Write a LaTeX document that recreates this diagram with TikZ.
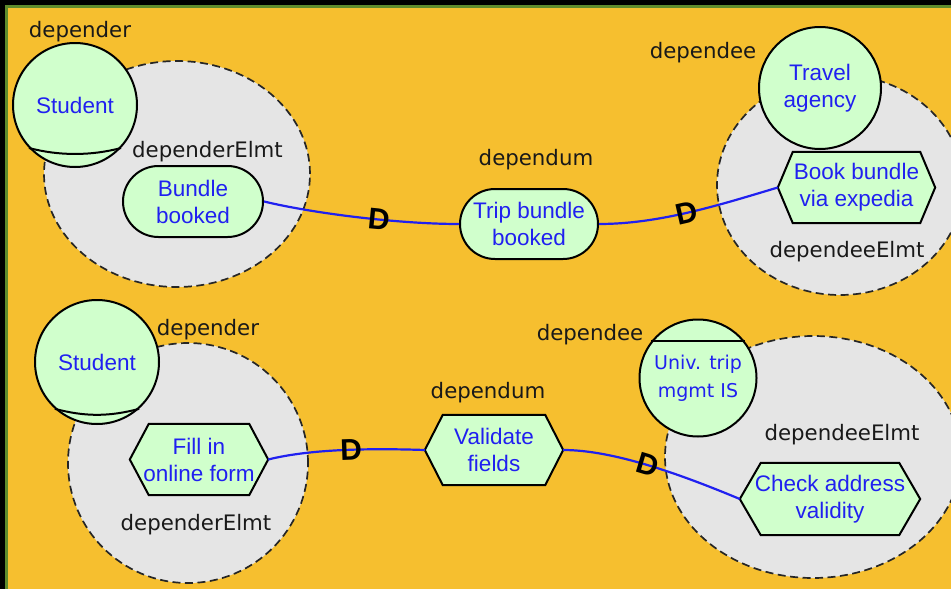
\documentclass[tikz,border=0pt]{standalone}
\usepackage{fontspec}
\setmainfont{Liberation Sans}
\newfontfamily\lblfont{DejaVu Sans}
\usetikzlibrary{shapes.geometric,shapes.misc}

\definecolor{orangebg}{RGB}{246,191,47}
\definecolor{framegreen}{RGB}{95,140,45}
\definecolor{bndgray}{RGB}{229,229,229}
\definecolor{elgreen}{RGB}{208,255,204}
\definecolor{intblue}{RGB}{32,32,240}
\definecolor{lbltext}{RGB}{25,25,25}

\pgfdeclarelayer{back}
\pgfdeclarelayer{mid}
\pgfsetlayers{back,mid,main}

\tikzset{
  boundary/.style={ellipse, draw=black!85, fill=bndgray, line width=1.7pt,
    dash pattern=on 8pt off 4.5pt, inner sep=0pt},
  outline/.style={draw=black, line width=2pt},
  actor/.style={circle, outline, fill=elgreen, inner sep=0pt, text=intblue,
    font=\fontsize{22.5}{27}\selectfont, align=center},
  goalbox/.style={rounded rectangle, outline, fill=elgreen, inner sep=0pt,
    text=intblue, font=\fontsize{22.5}{27}\selectfont, align=center},
  hexbox/.style={rectangle, inner sep=0pt, text=intblue,
    font=\fontsize{22.5}{27}\selectfont, align=center},
  hexline/.style={outline, fill=elgreen, line join=miter},
  lbl/.style={anchor=base, text=lbltext, inner sep=0pt,
    font=\lblfont\fontsize{21.3}{25}\selectfont},
  dep/.style={draw=intblue, line width=2.2pt},
  dmark/.style={text=black, inner sep=0pt, font=\bfseries\fontsize{30}{30}\selectfont}
}

% hexagonal task frame behind a text node: name, tip depth
\newcommand\hexframe[2]{%
  \begin{pgfonlayer}{mid}
    \draw[hexline] (#1.west) -- ([xshift=#2pt]#1.north west)
      -- ([xshift=-#2pt]#1.north east) -- (#1.east)
      -- ([xshift=-#2pt]#1.south east) -- ([xshift=#2pt]#1.south west) -- cycle;
  \end{pgfonlayer}}

\begin{document}
\begin{tikzpicture}[x=1pt,y=-1pt]
\useasboundingbox (0,0) rectangle (951,589);

\begin{pgfonlayer}{back}
  % frame and background
  \fill[black] (0,0) rectangle (951,589);
  \fill[framegreen] (4.5,4.5) rectangle (951,589);
  \fill[orangebg] (7.5,7.5) rectangle (951,589);
  % actor boundaries
  \node[boundary, minimum width=266, minimum height=226] (erA) at (177,174) {};
  \node[boundary, minimum width=246, minimum height=220] (eeA) at (840,185) {};
  \node[boundary, minimum width=240, minimum height=240] (erB) at (188,463) {};
  \node[boundary, minimum width=296, minimum height=242] (eeB) at (813,457) {};
\end{pgfonlayer}

% actors
\node[actor, minimum size=124] (stA) at (75,105) {Student};
\draw[outline] (stA.-137) .. controls +(30,8) and +(-30,8) .. (stA.-43);
\node[actor, minimum size=122] (ta) at (820,88) {Travel\\agency};
\node[actor, minimum size=124] (stB) at (97,362) {Student};
\draw[outline] (stB.-132) .. controls +(30,8) and +(-30,8) .. (stB.-48);
\node[actor, minimum size=117, font=\lblfont\fontsize{19}{28}\selectfont] (un) at (698,378) {Univ. trip\\mgmt IS};
\draw[outline] (un.142) -- (un.38);

% intentional elements
\node[goalbox, minimum width=140, minimum height=71] (bbk) at (193,201.5) {Bundle\\booked};
\node[goalbox, minimum width=138, minimum height=70] (tbb) at (529,224) {Trip bundle\\booked};
\node[hexbox, minimum width=157, minimum height=71] (bbe) at (856.5,187.5) {Book bundle\\via expedia};
\hexframe{bbe}{15}
\node[hexbox, minimum width=138, minimum height=71] (fio) at (199,459.5) {Fill in\\online form};
\hexframe{fio}{19}
\node[hexbox, minimum width=138, minimum height=70] (vf) at (494,450) {Validate\\fields};
\hexframe{vf}{18}
\node[hexbox, minimum width=180, minimum height=72] (cav) at (830,499) {Check address\\validity};
\hexframe{cav}{21}

% dependency links
\draw[dep] (bbk.east) .. controls +(50,12) and +(-60,0) .. (tbb.west)
  node[dmark, pos=0.6, sloped] {D};
\draw[dep] (tbb.east) .. controls +(60,0) and +(-60,18) .. (bbe.west)
  node[dmark, pos=0.49, sloped] {D};
\draw[dep] (fio.east) .. controls +(40,-10) and +(-60,-2) .. (vf.west)
  node[dmark, pos=0.575, sloped] {D};
\draw[dep] (vf.east) .. controls +(50,0) and +(-60,-25) .. (cav.west)
  node[dmark, pos=0.5, sloped] {D};

% role labels
\node[lbl] (lA1) at (80,37) {depender};
\node[lbl] (lA2) at (207.5,157) {dependerElmt};
\node[lbl] (lA3) at (536,165) {dependum};
\node[lbl] (lA4) at (703,58) {dependee};
\node[lbl] (lA5) at (847,257) {dependeeElmt};
\node[lbl] (lB1) at (208,335) {depender};
\node[lbl] (lB2) at (196,530) {dependerElmt};
\node[lbl] (lB3) at (488,398) {dependum};
\node[lbl] (lB4) at (590,340) {dependee};
\node[lbl] (lB5) at (842,440) {dependeeElmt};
\end{tikzpicture}
\end{document}
